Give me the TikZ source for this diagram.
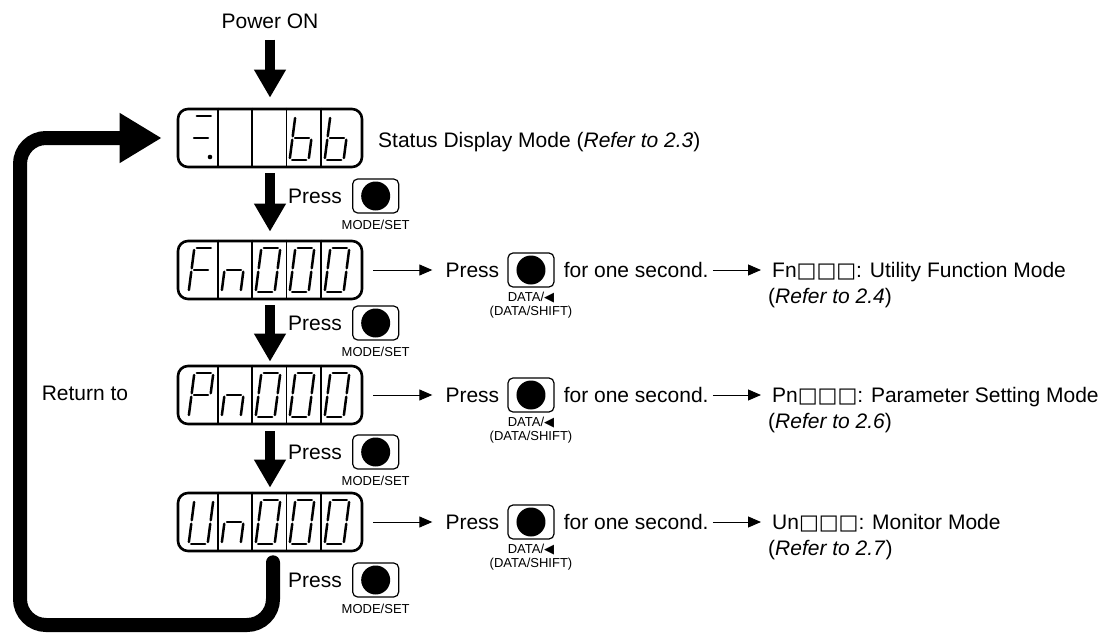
\documentclass[tikz,border=0pt]{standalone}
\usepackage{fontspec}
\setmainfont{Liberation Sans}
\newfontfamily\symfont{DejaVu Sans}
\usetikzlibrary{arrows.meta, positioning, calc}
\newcommand*{\digit}[2]{%
 \begin{scope}[shift={#1}, xslant=0.13]
  \foreach \s in {#2} {\draw[segline, seg \s];}
 \end{scope}}

\begin{document}
\begin{tikzpicture}[x=1pt, y=-1pt,
 every node/.style={font=\fontsize{21}{25}\selectfont, inner sep=0pt},
 small/.style={font=\fontsize{13}{14.5}\selectfont, align=center},
 disp/.style={draw, line width=2.6pt, rounded corners=10pt, minimum width=184pt, minimum height=58pt},
 btn/.style={draw, line width=1.2pt, rounded corners=5pt, minimum width=46pt, minimum height=34pt, path picture={\fill (path picture bounding box.center) circle (14.5pt);}},
 divline/.style={line width=1.6pt},
 segline/.style={line width=2.5pt, line cap=round},
 seg a/.style={insert path={(-7,-22) -- (7,-22)}},
 seg b/.style={insert path={(9.5,-20) -- (9.5,-1.8)}},
 seg c/.style={insert path={(9.5,1.8) -- (9.5,20)}},
 seg d/.style={insert path={(-7,22) -- (7,22)}},
 seg e/.style={insert path={(-9.5,1.8) -- (-9.5,20)}},
 seg f/.style={insert path={(-9.5,-20) -- (-9.5,-1.8)}},
 seg g/.style={insert path={(-7,0) -- (7,0)}},
 bigarrow/.style={line width=10pt, -{Triangle[width=30pt, length=28pt]}},
 thinarrow/.style={line width=1pt, -{Triangle[width=11pt, length=13pt]}},
 retarrow/.style={line width=14pt, line cap=round, rounded corners=26pt, -{Triangle[width=47pt, length=42pt]}}]
 \useasboundingbox (0,0) rectangle (1101,634);

 \node (pwr) at (270,21) {Power ON};
 \node[disp] (st) at (270,138) {};
 \node[disp] (fn) at (270,270) {};
 \node[disp] (pn) at (270,395) {};
 \node[disp] (un) at (270,522) {};
 \foreach \dsp in {st,fn,pn,un}
  \foreach \dx in {-52,-18,16.5,51}
   \draw[divline] ([xshift=\dx pt]\dsp.north) -- ([xshift=\dx pt]\dsp.south);

 \digit{($(st)+(-69,0)$)}{a,g}
 \fill ($(st)+(-60,19)$) circle (2.3pt);
 \digit{($(st)+(32,0)$)}{c,d,e,f,g}
 \digit{($(st)+(67,0)$)}{c,d,e,f,g}
 \digit{($(fn)+(-69,0)$)}{a,e,f,g}
 \digit{($(pn)+(-69,0)$)}{a,b,e,f,g}
 \digit{($(un)+(-69,0)$)}{b,c,d,e,f}
 \foreach \dsp in {fn,pn,un} {
  \digit{($(\dsp)+(-36,0)$)}{c,e,g}
  \foreach \dx in {-2,32,67} {\digit{($(\dsp)+(\dx,0)$)}{a,b,c,d,e,f}}
 }

 \draw[bigarrow, shorten <=11pt, shorten >=10pt] (pwr) -- (st);
 \draw[bigarrow, shorten <=5pt, shorten >=8pt] (st) -- (fn);
 \draw[bigarrow, shorten <=5pt, shorten >=3pt] (fn) -- (pn);
 \draw[bigarrow, shorten <=6pt, shorten >=4pt] (pn) -- (un);
 \foreach \i/\y in {1/196, 2/323, 3/452, 4/580} {
  \node[anchor=west] (p\i) at (288,\y) {Press};
  \node[btn, right=10pt of p\i] (b\i) {};
  \node[small, below=6pt of b\i] (m\i) {MODE/SET};
 }

 \node[anchor=base west] (stt) at (378,147) {Status Display Mode (\textit{Refer to 2.3})};

 \node (ret) at (85,393) {Return to};
 \coordinate (rb) at (20,625);
 \draw[retarrow, shorten >=15pt] ([xshift=3pt, yshift=-10pt]un.south) |- (rb) |- (st.west);

 \foreach \dsp/\pre/\mtxt/\rno in {fn/Fn/Utility Function Mode/2.4, pn/Pn/Parameter Setting Mode/2.6, un/Un/Monitor Mode/2.7} {
  \node[right=82pt of \dsp] (\dsp-p) {Press};
  \node[btn, right=8pt of \dsp-p] (\dsp-b) {};
  \node[small, below=4pt of \dsp-b] (\dsp-l) {DATA/{\symfont ◀}\\(DATA/SHIFT)};
  \node[right=9pt of \dsp-b] (\dsp-s) {for one second.};
  \node[anchor=base west] (\dsp-m) at ($(\dsp)+(502,7)$) {\pre{\symfont □□□}: \mtxt};
  \node[anchor=base west] (\dsp-r) at ($(\dsp)+(498,33)$) {(\textit{Refer to \rno})};
  \draw[thinarrow, shorten <=10pt, shorten >=13pt] (\dsp) -- (\dsp-p);
  \draw[thinarrow, shorten <=4pt, shorten >=11pt] (\dsp-s) -- (\dsp-s -| \dsp-m.west);
 }
\end{tikzpicture}
\end{document}
